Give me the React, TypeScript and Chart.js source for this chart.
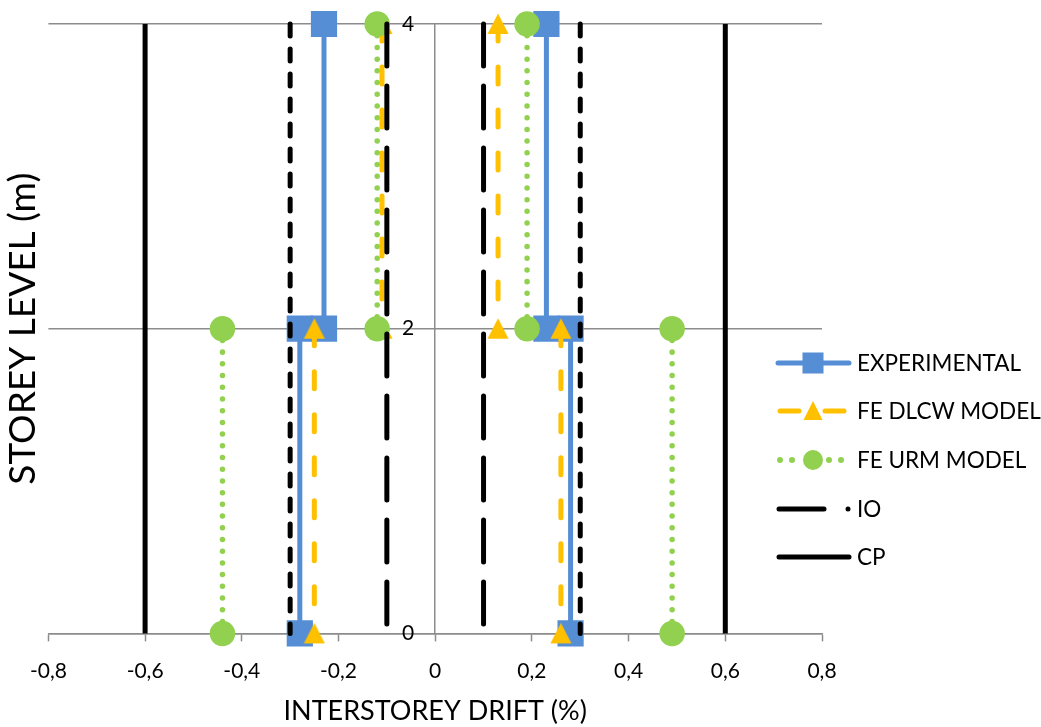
import React, { useEffect, useRef } from 'react';
import { Chart, registerables } from 'chart.js';

Chart.register(...registerables);

// ---- data ----
// storey segments: upper storey (4 m -> 2 m), lower storey (2 m -> 0 m)
const upperLevels = [4, 2];
const lowerLevels = [2, 0];
// drift values per storey: [negative direction, positive direction]
const experimentalUpper = [-0.23, 0.23];
const experimentalLower = [-0.28, 0.28];
const dlcwUpper = [-0.11, 0.13];
const dlcwLower = [-0.25, 0.26];
const urmUpper = [-0.12, 0.19];
const urmLower = [-0.44, 0.49];
const limitLevels = [4, 0];
const ioOuterLimits = [-0.3, 0.3];
const ioInnerLimits = [-0.1, 0.1];
const cpLimits = [-0.6, 0.6];
const xTickLabels = ['-0,8', '-0,6', '-0,4', '-0,2', '0', '0,2', '0,4', '0,6', '0,8'];
const yTickLabels = ['0', '2', '4'];
const legendLabels = ['EXPERIMENTAL', 'FE DLCW MODEL', 'FE URM MODEL', 'IO', 'CP'];

const BLUE = '#558ED5';
const YELLOW = '#FFC000';
const GREEN = '#92D050';
const BLACK = '#000000';
const GRID = '#8c8c8c';
const FONT = 'Lato, "Open Sans", sans-serif';

const pts = (xs: number[], ys: number[]) => xs.map((x, i) => ({ x, y: ys[i] }));

function makeTriangle(color: string) {
  const c = document.createElement('canvas');
  c.width = 22;
  c.height = 22;
  const ctx = c.getContext('2d');
  if (ctx) {
    ctx.fillStyle = color;
    ctx.beginPath();
    ctx.moveTo(11, 0.5);
    ctx.lineTo(21.5, 21);
    ctx.lineTo(0.5, 21);
    ctx.closePath();
    ctx.fill();
  }
  return c;
}

function LegendRow({ idx, top }: { idx: number; top: number }) {
  let sample: React.ReactNode = null;
  if (idx === 0) {
    sample = (
      <>
        <line x1={8} y1={15} x2={79} y2={15} stroke={BLUE} strokeWidth={5} strokeLinecap="round" />
        <rect x={32.5} y={4.5} width={21} height={21} fill={BLUE} />
      </>
    );
  } else if (idx === 1) {
    sample = (
      <>
        <line x1={10} y1={15} x2={29} y2={15} stroke={YELLOW} strokeWidth={5} strokeLinecap="round" />
        <line x1={55} y1={15} x2={74} y2={15} stroke={YELLOW} strokeWidth={5} strokeLinecap="round" />
        <polygon points="43,5 33.5,24 52.5,24" fill={YELLOW} />
      </>
    );
  } else if (idx === 2) {
    sample = (
      <>
        {[10, 22, 59, 71].map((cx) => (
          <circle key={cx} cx={cx} cy={15} r={3} fill={GREEN} />
        ))}
        <circle cx={43} cy={15} r={10} fill={GREEN} />
      </>
    );
  } else if (idx === 3) {
    sample = (
      <>
        <line x1={9} y1={15} x2={54} y2={15} stroke={BLACK} strokeWidth={5} strokeLinecap="round" />
        <circle cx={78} cy={15} r={2.5} fill={BLACK} />
      </>
    );
  } else {
    sample = <line x1={9} y1={15} x2={79} y2={15} stroke={BLACK} strokeWidth={5} strokeLinecap="round" />;
  }
  return (
    <div style={{ position: 'absolute', left: 770, top: top - 15, height: 30, display: 'flex', alignItems: 'center' }}>
      <svg width={87} height={30} style={{ display: 'block', flex: 'none' }}>
        {sample}
      </svg>
      <span style={{ font: `22.5px ${FONT}`, color: '#000', whiteSpace: 'nowrap', lineHeight: '30px' }}>
        {legendLabels[idx]}
      </span>
    </div>
  );
}

export default function App() {
  const canvasRef = useRef<HTMLCanvasElement | null>(null);

  useEffect(() => {
    document.body.style.margin = '0';
    const canvas = canvasRef.current;
    if (!canvas) return;

    const common = { showLine: true, clip: false as any, pointHoverRadius: 0 };
    const segDs = (label: string, x: number, levels: number[], color: string, extra: any) => ({
      label,
      data: pts([x, x], levels),
      borderColor: color,
      backgroundColor: color,
      pointBorderColor: color,
      pointBackgroundColor: color,
      ...common,
      ...extra,
    });
    const seriesDs = (label: string, upper: number[], lower: number[], color: string, extra: any) => [
      ...upper.map((x) => segDs(label, x, upperLevels, color, extra)),
      ...lower.map((x) => segDs(label, x, lowerLevels, color, extra)),
    ];
    const limitDs = (label: string, x: number, extra: any) => ({
      label,
      data: pts([x, x], limitLevels),
      borderColor: BLACK,
      backgroundColor: BLACK,
      borderWidth: 5,
      pointRadius: 0,
      ...common,
      ...extra,
    });

    const expStyle = { borderWidth: 5, pointStyle: 'rect', pointRadius: 15, order: 4 };
    const dlcwStyle = {
      borderWidth: 5,
      borderDash: [17, 26],
      borderCapStyle: 'round',
      pointStyle: makeTriangle(YELLOW),
      pointRadius: 11,
      order: 3,
    };
    const urmStyle = {
      borderWidth: 5.5,
      borderDash: [0.01, 11.7],
      borderCapStyle: 'round',
      pointStyle: 'circle',
      pointRadius: 10,
      order: 2,
    };

    const datasets: any[] = [
      ...seriesDs('EXPERIMENTAL', experimentalUpper, experimentalLower, BLUE, expStyle),
      ...seriesDs('FE DLCW MODEL', dlcwUpper, dlcwLower, YELLOW, dlcwStyle),
      ...seriesDs('FE URM MODEL', urmUpper, urmLower, GREEN, urmStyle),
      ...ioOuterLimits.map((x) => limitDs('IO', x, { borderDash: [12, 13], borderCapStyle: 'round', order: 1 })),
      ...ioInnerLimits.map((x) => limitDs('IO', x, { borderDash: [42, 20], borderCapStyle: 'round', order: 1 })),
      ...cpLimits.map((x) => limitDs('CP', x, { order: 5 })),
    ];

    const chart = new Chart(canvas, {
      type: 'scatter',
      data: { datasets },
      options: {
        animation: false,
        responsive: false,
        devicePixelRatio: 1,
        events: [],
        layout: { padding: { left: 0, right: 219, top: 24, bottom: 0 } },
        plugins: { legend: { display: false }, tooltip: { enabled: false } },
        scales: {
          x: {
            type: 'linear',
            min: -0.8,
            max: 0.8,
            ticks: {
              stepSize: 0.2,
              padding: 17,
              color: '#000',
              font: { family: FONT, size: 21 },
              callback: (v: any) => xTickLabels[Math.round((Number(v) + 0.8) / 0.2)] ?? '',
            },
            grid: {
              drawOnChartArea: false,
              drawTicks: true,
              tickLength: 8,
              tickColor: GRID,
              tickWidth: 1.5,
            },
            border: { display: true, color: GRID, width: 1.5 },
            title: {
              display: true,
              text: 'INTERSTOREY DRIFT (%)',
              color: '#000',
              font: { family: FONT, size: 27 },
              padding: { top: -6, bottom: 0 },
            },
          },
          y: {
            type: 'linear',
            position: 'center',
            min: 0,
            max: 4,
            ticks: {
              stepSize: 2,
              padding: 0,
              color: '#000',
              font: { family: FONT, size: 21 },
              callback: (v: any) => yTickLabels[Math.round(Number(v) / 2)] ?? '',
            },
            grid: {
              color: GRID,
              lineWidth: 1.5,
              drawTicks: true,
              tickLength: 21,
              tickColor: 'rgba(0,0,0,0)',
            },
            border: { display: true, color: GRID, width: 1.5 },
          },
          yTitle: {
            type: 'linear',
            position: 'left',
            axis: 'y',
            min: 0,
            max: 4,
            ticks: { display: false },
            grid: { display: false, drawTicks: false, tickLength: 0 },
            border: { display: false },
            title: {
              display: true,
              text: 'STOREY LEVEL (m)',
              color: '#000',
              font: { family: FONT, size: 37 },
              padding: { top: 1, bottom: 3 },
            },
          },
        } as any,
      },
    });

    return () => chart.destroy();
  }, []);

  const rowTops = [363, 411, 460, 509, 557];

  return (
    <div style={{ position: 'relative', width: 1041, height: 727, overflow: 'hidden' }}>
      <canvas ref={canvasRef} width={1041} height={727} style={{ display: 'block' }} />
      {rowTops.map((t, i) => (
        <LegendRow key={i} idx={i} top={t} />
      ))}
    </div>
  );
}
